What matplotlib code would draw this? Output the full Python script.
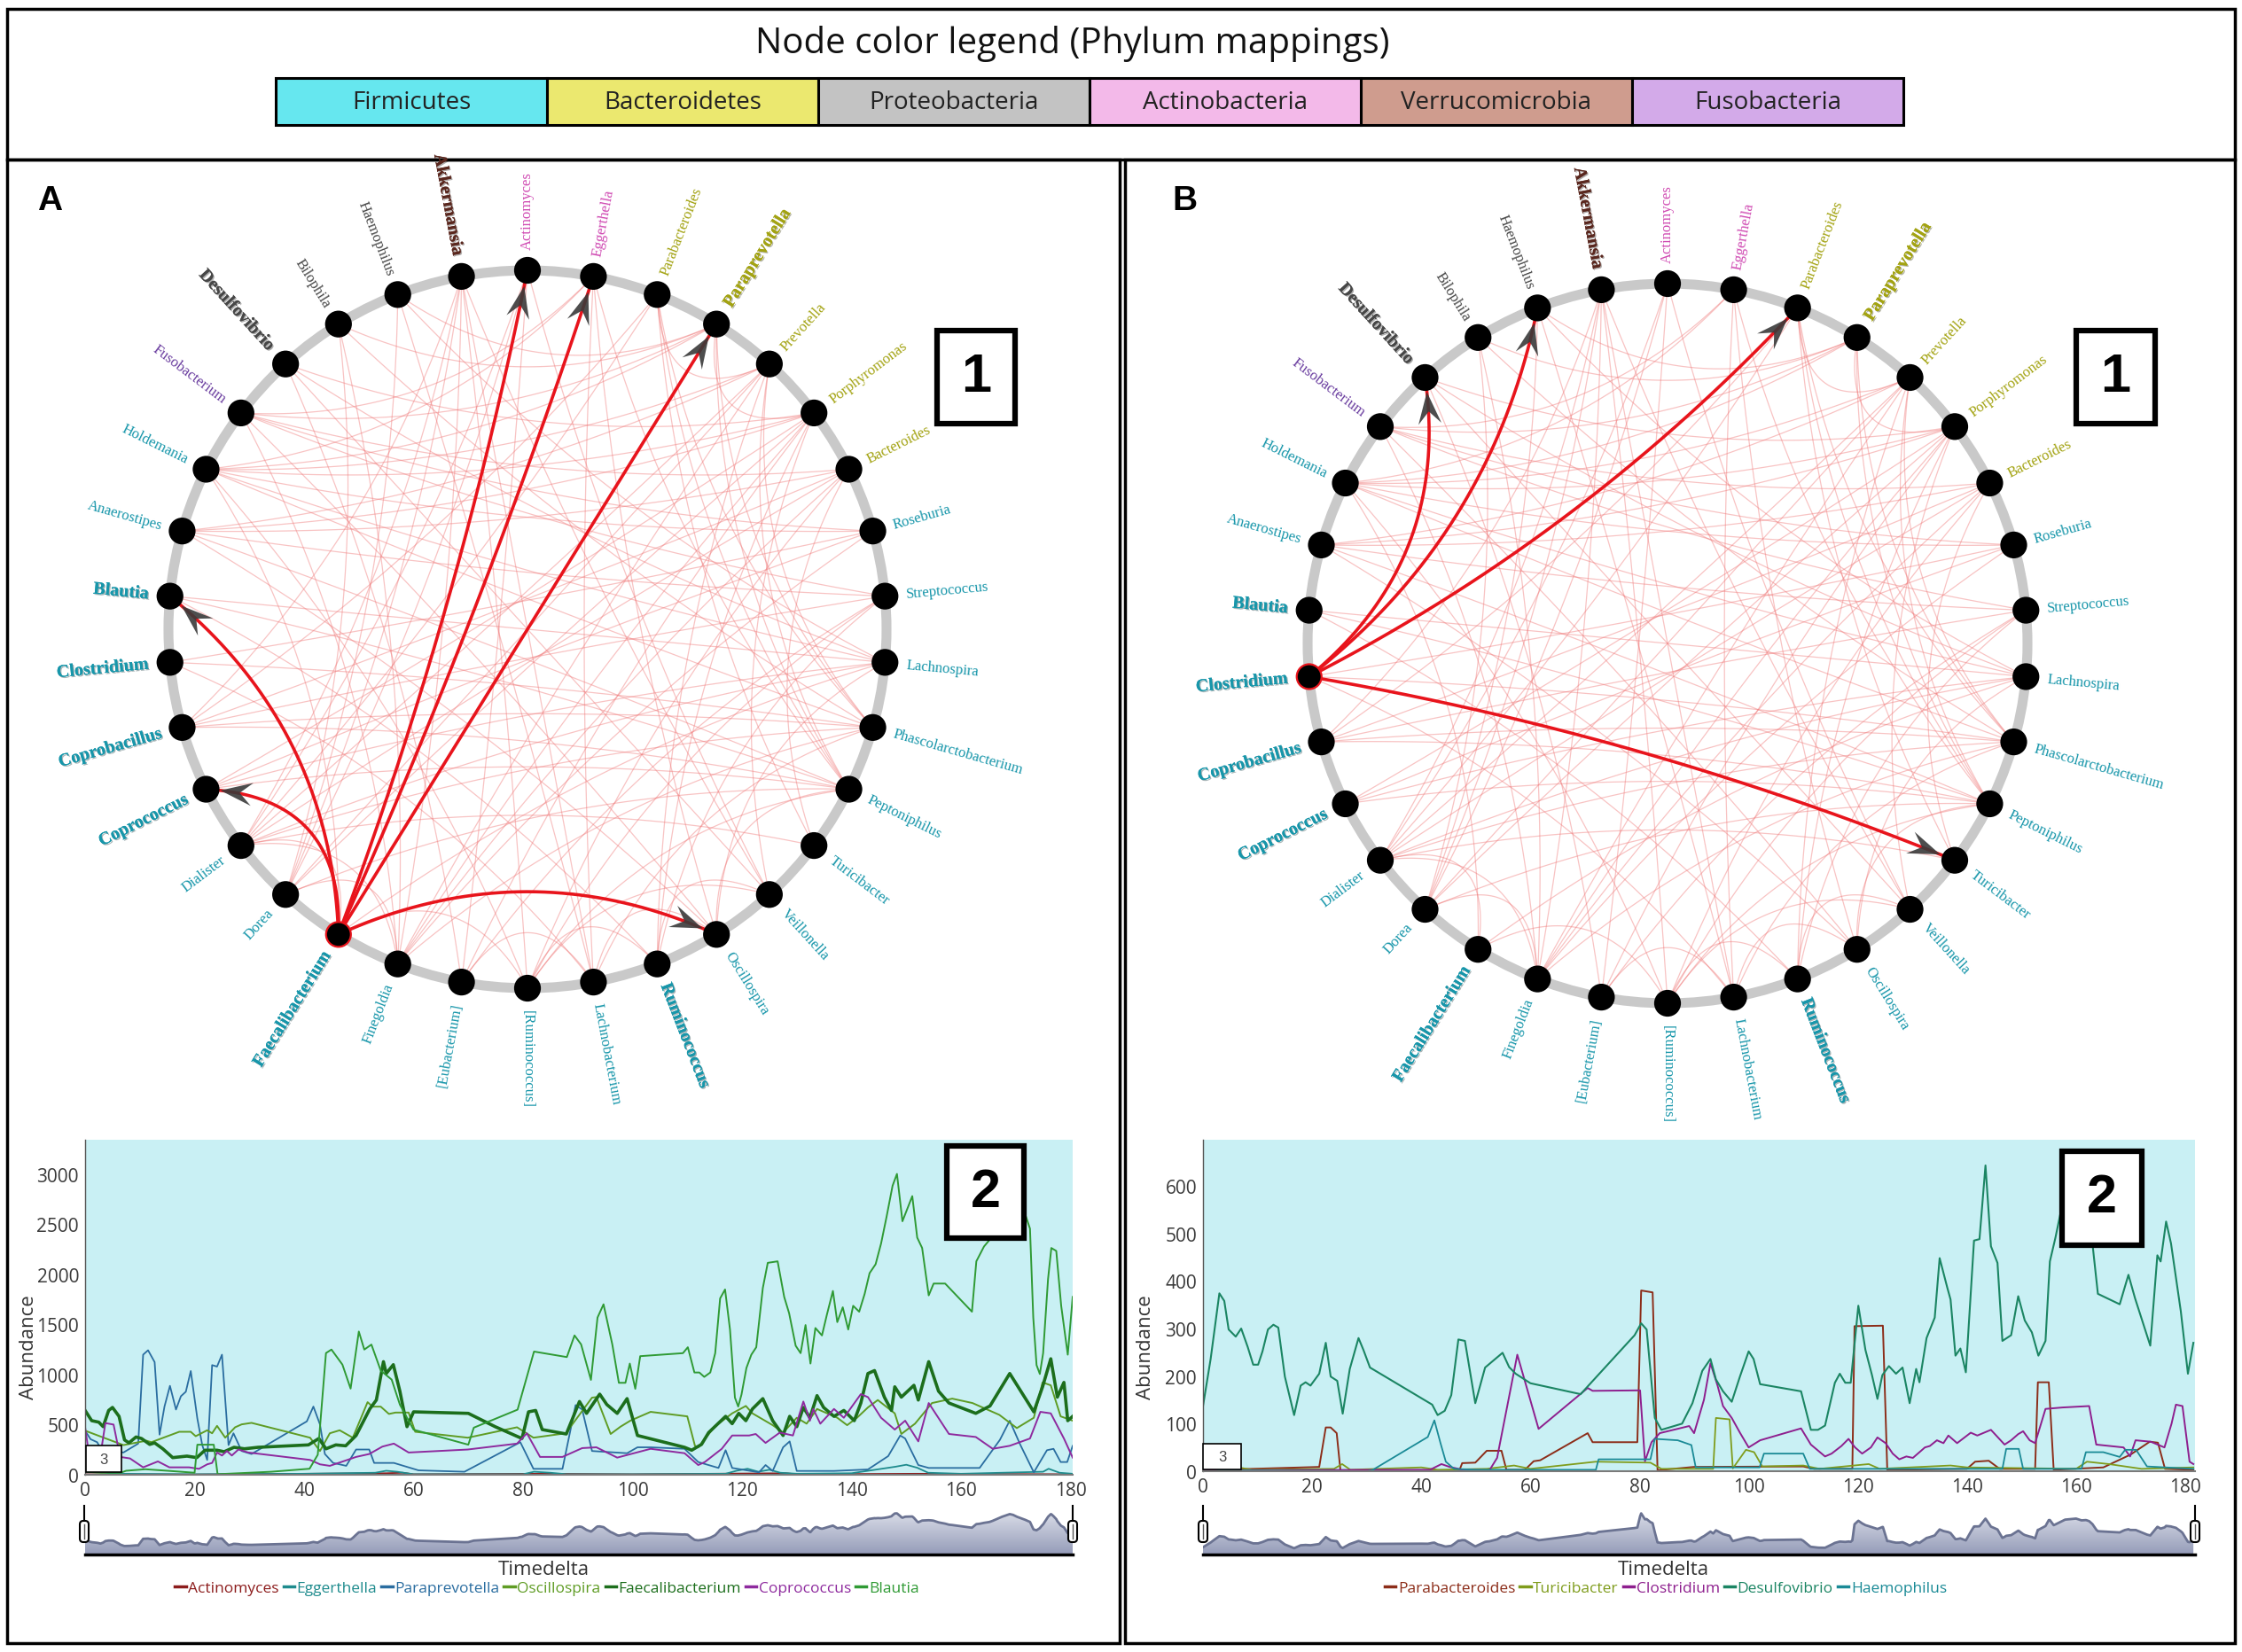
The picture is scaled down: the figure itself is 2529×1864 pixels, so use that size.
import numpy as np
import matplotlib.pyplot as plt
import matplotlib.patheffects as pe
from matplotlib.patches import Rectangle, Circle, Polygon, FancyBboxPatch
from matplotlib.lines import Line2D
from matplotlib.colors import LinearSegmentedColormap

plt.rcParams['font.family'] = ['Open Sans', 'DejaVu Sans']

W, H = 2529, 1865

# ---------------- data ----------------
phyla = ['Firmicutes', 'Bacteroidetes', 'Proteobacteria', 'Actinobacteria', 'Verrucomicrobia', 'Fusobacteria']
phylum_fill = ['#66e7ef', '#ebe86f', '#c3c3c3', '#f3b9e9', '#cf9c8e', '#d3aae9']
phylum_text = ['#1796aa', '#a3a312', '#474747', '#d04bb3', '#5a271e', '#6a3d9f']

genera = ['Actinomyces', 'Eggerthella', 'Parabacteroides', 'Paraprevotella', 'Prevotella',
          'Porphyromonas', 'Bacteroides', 'Roseburia', 'Streptococcus', 'Lachnospira',
          'Phascolarctobacterium', 'Peptoniphilus', 'Turicibacter', 'Veillonella', 'Oscillospira',
          'Ruminococcus', 'Lachnobacterium', '[Ruminococcus]', '[Eubacterium]', 'Finegoldia',
          'Faecalibacterium', 'Dorea', 'Dialister', 'Coprococcus', 'Coprobacillus', 'Clostridium',
          'Blautia', 'Anaerostipes', 'Holdemania', 'Fusobacterium', 'Desulfovibrio', 'Bilophila',
          'Haemophilus', 'Akkermansia']
genus_phylum = [3, 3] + [1] * 5 + [0] * 22 + [5] + [2] * 3 + [4]
bold_genera = ['Akkermansia', 'Paraprevotella', 'Desulfovibrio', 'Blautia', 'Clostridium',
               'Coprobacillus', 'Coprococcus', 'Faecalibacterium', 'Ruminococcus']

bg_edges = [(33, 19), (33, 17), (33, 21), (33, 22), (33, 16), (33, 13), (33, 24),
            (4, 28), (4, 27), (4, 22), (4, 21), (4, 19), (4, 11), (4, 10), (4, 15),
            (3, 29), (3, 28), (3, 31), (3, 32), (3, 11),
            (6, 27), (6, 24), (6, 22), (6, 17), (6, 19), (6, 12),
            (1, 14), (1, 16), (1, 11), (1, 28), (0, 18), (0, 13), (0, 22),
            (32, 16), (32, 21), (32, 9), (31, 21), (31, 19), (31, 10),
            (28, 10), (28, 9), (28, 17), (28, 7), (27, 8), (27, 11), (27, 14),
            (26, 9), (26, 15), (26, 11), (25, 7), (25, 10), (25, 16),
            (24, 8), (24, 10), (24, 11), (24, 2), (23, 7), (23, 9), (23, 11), (23, 5),
            (22, 2), (22, 9), (22, 10), (22, 12), (22, 19), (21, 0), (21, 5), (21, 11), (21, 19),
            (19, 5), (19, 7), (19, 10), (19, 29), (18, 5), (18, 8), (18, 30), (18, 16),
            (17, 8), (17, 11), (17, 13), (17, 15), (16, 10), (16, 14), (15, 5), (15, 8), (15, 13),
            (14, 9), (14, 11), (14, 29), (13, 5), (12, 2), (11, 2), (10, 3), (10, 2),
            (29, 6), (29, 1), (30, 13), (30, 5), (30, 9), (8, 29), (7, 29), (5, 27), (5, 28),
            (2, 4), (3, 5), (20, 22), (20, 17), (20, 28), (20, 9)]

src_A = 'Faecalibacterium'
targets_A = ['Blautia', 'Coprococcus', 'Actinomyces', 'Eggerthella', 'Paraprevotella', 'Oscillospira']
src_B = 'Clostridium'
targets_B = ['Desulfovibrio', 'Haemophilus', 'Parabacteroides', 'Turicibacter']

# panel A time series (Timedelta, abundance)
a_actinomyces = [(0, 5), (20, 3), (55, 15), (58, 20), (60, 5), (83, 10), (100, 5), (128, 15),
                 (130, 5), (152, 10), (180.4, 5)]
a_eggerthella = [(0, 60), (2, 40), (5, 10), (20, 5), (40, 10), (53, 20), (55, 40), (57, 30), (60, 5),
                 (80, 5), (82, 30), (85, 20), (88, 5), (100, 5), (117, 10), (119, 40), (121, 60),
                 (123, 30), (125, 50), (127, 20), (130, 10), (140, 15), (148, 80), (150, 100),
                 (152, 70), (154, 20), (160, 10), (175, 30), (176, 60), (178, 20), (180.4, 10)]
a_paraprevotella = [(0, 440), (1, 355), (2.2, 325), (2.8, 266), (7, 222), (9.7, 311), (10.6, 1199),
                    (11.5, 1243), (12.7, 1125), (13.6, 400), (14.5, 681), (15.5, 888), (16.6, 651),
                    (17.5, 784), (18.4, 829), (19.3, 1036), (20.5, 562), (21.4, 296), (22.3, 148),
                    (23.2, 1095), (24.1, 1080), (25, 1199), (26.2, 296), (27.1, 414), (28.6, 237),
                    (30.4, 207), (40.5, 533), (41.7, 681), (42.9, 503), (43.8, 207), (45.3, 118),
                    (47.7, 89), (49.5, 252), (51.9, 252), (52.8, 118), (56.4, 118), (60.9, 44),
                    (69.3, 30), (79.5, 325), (81.9, 59), (87.2, 59), (89.6, 696), (90.8, 651),
                    (92.6, 237), (99, 215), (100.9, 274), (103.3, 274), (109.5, 259), (112, 127),
                    (115.7, 68), (117, 245), (118.2, 68), (123.1, 24), (124.3, 97), (125.6, 38),
                    (127.5, 274), (128.7, 333), (130, 38), (136.8, 38), (143, 53), (146.7, 186),
                    (148.9, 392), (149.8, 362), (152.2, 97), (154.1, 68), (163.4, 68), (167.1, 348),
                    (168.9, 540), (170.8, 303), (173.3, 24), (175.7, 245), (176.9, 259), (178.2, 127),
                    (179.4, 127), (180.4, 289)]
a_oscillospira = [(0, 440), (7, 296), (11.2, 340), (12.1, 325), (17.2, 429), (19.3, 429), (20.2, 385),
                  (22.3, 444), (23.2, 414), (24.1, 488), (25.6, 370), (27.4, 474), (28.6, 503),
                  (30.4, 518), (41.1, 370), (42.9, 237), (44.7, 414), (46.5, 444), (48.9, 370),
                  (51.6, 725), (52.5, 680), (54, 680), (55.5, 607), (56.7, 621), (59.1, 621),
                  (60.3, 429), (69.9, 370), (78.9, 474), (81.9, 370), (87.8, 414), (92.6, 770),
                  (93.4, 775), (96, 407), (97.8, 480), (99.6, 540), (103.3, 628), (110, 583),
                  (111.4, 289), (112, 274), (115, 480), (118.2, 613), (120.7, 687), (121.9, 613),
                  (125.6, 495), (127.5, 421), (130, 569), (131.8, 510), (133.7, 657), (137.4, 569),
                  (139.2, 495), (141, 569), (143, 672), (144.8, 746), (147.9, 613), (149.1, 407),
                  (151.6, 510), (154.7, 716), (158.4, 760), (162.1, 716), (167, 598), (170.2, 466),
                  (173.3, 569), (174.9, 922), (176.4, 893), (178.2, 583), (180.4, 540)]
a_faecalibacterium = [(0, 642), (1.2, 540), (2.5, 525), (3.3, 480), (4.3, 642), (5, 672), (6.2, 583),
                      (7.2, 348), (8, 318), (9.3, 377), (10.3, 362), (11.8, 303), (12.7, 318),
                      (14.2, 259), (16, 171), (18.6, 186), (20.4, 171), (21.9, 245), (24.1, 245),
                      (25.4, 230), (27.2, 274), (29.1, 259), (31.6, 274), (40.8, 298), (42.7, 362),
                      (44, 259), (45.8, 298), (47.6, 289), (49.5, 392), (52, 657), (53.2, 746),
                      (54.5, 1129), (55, 1011), (56.3, 1099), (57.5, 834), (58.8, 480), (60, 628),
                      (70, 613), (74.9, 480), (79.8, 362), (81, 628), (82.3, 642), (83.5, 451),
                      (87.9, 407), (90.3, 731), (91.6, 613), (94, 805), (95.3, 701), (97.2, 613),
                      (99, 760), (100.9, 392), (109.5, 274), (110.8, 245), (112.6, 303), (113.9, 421),
                      (117, 583), (118.2, 510), (119.4, 613), (120.7, 540), (121.9, 657), (123.8, 760),
                      (125.6, 540), (127.5, 392), (128.7, 583), (130, 480), (131.2, 672), (132.4, 569),
                      (133.7, 790), (134.9, 672), (136.8, 583), (138.6, 642), (140.5, 540),
                      (141.7, 716), (143, 1011), (144.2, 1040), (146, 775), (147.3, 642), (147.9, 878),
                      (149.1, 775), (151.4, 893), (152.2, 746), (154.1, 1129), (155.9, 834),
                      (157.8, 716), (162.7, 613), (165.3, 687), (168.9, 1011), (173.3, 628),
                      (174.9, 878), (176.4, 1158), (177.6, 775), (178.8, 922), (179.5, 540), (180.4, 583)]
a_coprococcus = [(0, 474), (0.7, 207), (2.8, 192), (3.7, 516), (5.2, 501), (6.4, 178), (8.2, 163),
                 (10.6, 74), (13.3, 133), (15.4, 74), (19, 74), (20.8, 59), (22.3, 104), (23.2, 118),
                 (24.1, 222), (25, 192), (25.9, 237), (26.8, 192), (28, 252), (29.8, 222), (41.1, 148),
                 (42.9, 104), (44.7, 89), (47.1, 133), (49.5, 178), (51.9, 207), (54.3, 281),
                 (56.4, 311), (59.1, 222), (69.9, 252), (78.9, 311), (80.7, 414), (83.1, 178),
                 (87.2, 178), (90.8, 266), (93.4, 274), (97.2, 171), (103.3, 259), (109.5, 215),
                 (112, 97), (113.2, 127), (116.3, 259), (118.2, 392), (121.3, 392), (122.5, 407),
                 (124.3, 318), (126.9, 421), (129.3, 392), (131.2, 731), (132.4, 540), (133, 657),
                 (134.3, 510), (136.8, 657), (138.6, 569), (141.7, 805), (143, 775), (145.4, 569),
                 (147.9, 451), (149.8, 540), (152.2, 333), (154.1, 716), (157.8, 407), (162.7, 377),
                 (165.8, 259), (168.9, 289), (172.6, 362), (174.5, 628), (176.4, 613), (178.8, 362),
                 (180.4, 171)]
a_blautia = [(0, 30), (3, 20), (6.5, 20), (7.5, 40), (11, 55), (15, 40), (20, 20), (20.5, 300),
             (23.5, 300), (24.2, 5), (26, 10), (34, 30), (41, 60), (42.5, 200), (44, 1215), (45, 1250),
             (47, 1100), (48.5, 860), (50, 1430), (51, 1250), (52.3, 1300), (54, 1040), (56, 950),
             (57.5, 700), (60, 450), (70, 300), (71, 470), (79, 650), (82, 1230), (88, 1175),
             (89.4, 1391), (90.6, 1302), (92.4, 947), (93.6, 1569), (94.7, 1702), (96.3, 1302),
             (97.5, 918), (98.7, 918), (99.5, 1110), (100.5, 858), (101.4, 1184), (109.2, 1214),
             (110.1, 1273), (111.3, 1021), (112.2, 1021), (113.1, 977), (114.2, 1021), (115.1, 1214),
             (116, 1761), (116.9, 1850), (117.8, 1450), (118.7, 770), (119.3, 681), (119.9, 800),
             (120.8, 1066), (121.7, 1199), (122.6, 1273), (123.8, 1865), (124.7, 2116), (126.5, 2131),
             (127.7, 1776), (128.6, 1613), (129.8, 1288), (130.7, 1214), (131.6, 1495), (132.5, 1110),
             (133.4, 1465), (134.6, 1391), (135.5, 1598), (136.6, 1835), (137.4, 1524), (138.4, 1672),
             (139.4, 1450), (140.3, 1687), (141.4, 1628), (142.4, 1806), (143.3, 2013), (144.4, 2102),
             (145.4, 2309), (146.4, 2575), (147.5, 2886), (148.3, 3004), (149.3, 2531), (151.1, 2782),
             (152, 2368), (152.9, 2264), (154.1, 1791), (155, 1909), (157.1, 1909), (162, 1628),
             (162.8, 2131), (164.2, 2279), (165.1, 2338), (167.5, 2700), (169.5, 2850), (171.7, 2605),
             (172.6, 2457), (173.2, 1569), (173.8, 1095), (174.4, 1006), (175, 1214), (175.9, 1954),
             (176.5, 2264), (177.4, 2235), (178.3, 1687), (179.5, 1199), (180.4, 1776)]

# panel B time series
b_parabacteroides = [(0, 2), (21.3, 9), (22.5, 92), (23.4, 92), (24.5, 80), (25.2, 0), (47, 2), (47.5, 17),
                     (49.9, 18), (52, 43), (54.7, 43), (55.6, 3), (59, 3), (60.6, 21), (61.8, 23),
                     (70.5, 80), (71.4, 61), (79.6, 61), (80.3, 380), (82.4, 376), (83.3, 2), (90, 9),
                     (110, 10), (112, 5), (119, 5), (119.4, 305), (124.6, 306), (125.4, 3), (140, 5),
                     (141.5, 20), (144, 22), (146, 5), (152.5, 5), (153, 187), (155, 187), (155.9, 3),
                     (165, 8), (170, 35), (173.5, 62), (175, 60), (176.3, 5), (181.5, 3)]
b_turicibacter = [(0, 3), (3, 8), (5, 15), (6.5, 8), (9, 3), (24, 5), (25.5, 15), (27, 3), (40, 8), (43, 3),
                  (52, 5), (57, 12), (60, 5), (72, 20), (82, 18), (84, 5), (93.5, 5), (94, 112),
                  (96.5, 109), (97.1, 6), (99.5, 45), (101, 40), (102.5, 10), (110, 12), (113, 5),
                  (122, 15), (124, 5), (137, 12), (140, 8), (160, 5), (162, 20), (166, 15), (172, 5),
                  (181.5, 8)]
b_clostridium = [(0, 2), (41.6, 3), (43.7, 15), (45.2, 9), (47.6, 3), (52.5, 2), (53.9, 28), (57.6, 245),
                 (61.5, 89), (70.5, 175), (71.4, 169), (80.1, 170), (81, 21), (82.2, 61), (83.7, 80),
                 (89.1, 95), (90, 80), (91.8, 150), (93, 227), (94.3, 180), (95.3, 137), (96.9, 112),
                 (98.4, 81), (100, 50), (102.1, 65), (109.6, 90), (111.4, 56), (114, 31), (115.2, 37),
                 (117, 53), (118.3, 68), (119.5, 50), (120.8, 37), (122.4, 50), (123.6, 71), (125.1, 59),
                 (126.4, 37), (127.6, 25), (128.9, 31), (130.1, 28), (131.3, 40), (132.3, 50), (133.2, 53),
                 (134.5, 65), (135.7, 59), (136.6, 75), (138.2, 59), (140.7, 81), (141.9, 75), (144.4, 87),
                 (146.9, 56), (148.1, 65), (149.4, 78), (150.3, 84), (151.5, 65), (152.5, 59), (154.4, 131),
                 (157.5, 134), (162.4, 137), (163.7, 56), (168.7, 50), (169.9, 31), (170.9, 65),
                 (173.7, 62), (176.2, 50), (177.5, 100), (178.3, 140), (179.5, 137), (180.8, 20),
                 (181.5, 15)]
b_desulfovibrio = [(0, 137), (1.4, 236), (3, 374), (3.9, 358), (4.7, 298), (6, 283), (7, 300), (8.2, 261),
                   (9.2, 224), (10.1, 224), (10.9, 252), (11.9, 298), (12.9, 308), (13.8, 302), (15, 199),
                   (16.7, 118), (17.9, 180), (18.8, 187), (19.7, 180), (21.3, 205), (22.5, 270), (23.4, 199),
                   (24.6, 190), (25.6, 121), (26.9, 215), (28.5, 280), (29.4, 255), (30.6, 218), (42, 140),
                   (43, 118), (44.3, 127), (45.5, 160), (46.8, 277), (48, 274), (49.9, 143), (51.7, 218),
                   (54.9, 249), (56.1, 219), (57.3, 205), (60, 185), (69.2, 162), (79.1, 286), (80.3, 311),
                   (81.3, 298), (82.8, 112), (84, 87), (87.8, 100), (89.7, 143), (91.5, 211), (93, 236),
                   (94, 193), (95.3, 168), (96.9, 146), (98.4, 199), (100, 252), (100.9, 236), (102.1, 183),
                   (109.6, 168), (111.4, 87), (112.7, 87), (114, 96), (115.8, 186), (116.7, 205),
                   (117.7, 186), (118.7, 186), (120.1, 348), (121.4, 255), (122.6, 202), (123.6, 152),
                   (124.5, 202), (125.7, 221), (127, 205), (128.2, 218), (129.5, 143), (130.7, 215),
                   (131.3, 187), (132.6, 280), (134.1, 323), (135, 448), (136.4, 386), (137, 361),
                   (137.9, 243), (138.8, 258), (139.8, 208), (141.3, 485), (142.3, 488), (143.4, 643),
                   (144.4, 473), (145.6, 438), (146.5, 274), (148.1, 286), (149.4, 368), (150.6, 317),
                   (151.9, 292), (153.1, 243), (154.4, 274), (155.2, 441), (156.2, 490), (158, 590),
                   (160, 610), (161.5, 540), (163, 479), (164, 373), (168, 351), (169.6, 413),
                   (170.8, 364), (173.6, 264), (174.9, 454), (175.5, 441), (176.5, 525), (177.4, 479),
                   (179.2, 336), (180.5, 205), (181.5, 270)]
b_haemophilus = [(0, 10), (2, 8), (3, 2), (30, 0), (31, 2), (41.2, 72), (42.4, 107), (43.5, 60), (44.5, 20),
                 (46, 5), (50, 3), (72, 3), (72.5, 25), (82, 25), (82.8, 68), (87, 65), (89.5, 55),
                 (90.3, 8), (102, 8), (102.8, 37), (110, 37), (111.2, 5), (146.5, 5), (147.2, 47),
                 (149.5, 47), (150.3, 5), (161, 5), (161.8, 40), (165, 40), (168, 30), (169, 45),
                 (171, 45), (173, 10), (181.5, 5)]

names_A = ['Actinomyces', 'Eggerthella', 'Paraprevotella', 'Oscillospira', 'Faecalibacterium', 'Coprococcus', 'Blautia']
data_A = [a_actinomyces, a_eggerthella, a_paraprevotella, a_oscillospira, a_faecalibacterium, a_coprococcus, a_blautia]
colors_A = ['#8c1c1c', '#1e8b8d', '#2a6da0', '#5f9c24', '#1c6e1c', '#8e2a9e', '#2f9a34']
widths_A = [1.3, 1.3, 1.3, 1.4, 2.6, 1.4, 1.4]

names_B = ['Parabacteroides', 'Turicibacter', 'Clostridium', 'Desulfovibrio', 'Haemophilus']
data_B = [b_parabacteroides, b_turicibacter, b_clostridium, b_desulfovibrio, b_haemophilus]
colors_B = ['#8c2d19', '#7f9c1c', '#8e1f8e', '#1b8563', '#1a8a96']
widths_B = [1.4, 1.3, 1.4, 1.5, 1.3]

# ---------------- figure ----------------
fig = plt.figure(figsize=(W / 100, H / 100), dpi=100)


def px_axes(x0, y0, x1, y1):
    return fig.add_axes([x0 / W, 1 - y1 / H, (x1 - x0) / W, (y1 - y0) / H])


def draw_chart(box, data, colors, widths, xmax, ymax, yticks, slider_box):
    ax = px_axes(*box)
    ax.set_facecolor('#c9f0f4')
    for pts, c, lw in zip(data, colors, widths):
        t, v = np.array(pts).T
        ax.plot(t, v, color=c, lw=lw)
    ax.set_xlim(0, xmax)
    ax.set_ylim(0, ymax)
    ax.set_xticks(range(0, 181, 20))
    ax.set_yticks(yticks)
    ax.tick_params(length=0, labelsize=15, labelcolor='#3a3a3a', pad=5)
    for s in ['top', 'right']:
        ax.spines[s].set_visible(False)
    ax.spines['left'].set_color('#555555')
    ax.spines['left'].set_linewidth(1)
    ax.spines['bottom'].set_color('#7a7a7a')
    ax.spines['bottom'].set_linewidth(1.5)

    # range slider with an overview of the summed abundance
    sax = px_axes(*slider_box)
    tgrid = np.unique(np.concatenate([np.array(p)[:, 0] for p in data]))
    total = sum(np.interp(tgrid, *np.array(p).T) for p in data)
    top = total.max() * 1.12
    poly = sax.fill_between(tgrid, total, facecolor='none', edgecolor='none')
    cmap = LinearSegmentedColormap.from_list('sl', ['#959cb9', '#dfe2eb'])
    grad = sax.imshow(np.linspace(0, 1, 100)[:, None], extent=[0, xmax, 0, top],
                      aspect='auto', cmap=cmap, origin='lower')
    grad.set_clip_path(poly.get_paths()[0], transform=sax.transData)
    sax.plot(tgrid, total, color='#6b7392', lw=2)
    sax.set_xlim(0, xmax)
    sax.set_ylim(0, top)
    sax.set_xticks([])
    sax.set_yticks([])
    for s in ['top', 'right', 'left']:
        sax.spines[s].set_visible(False)
    sax.spines['bottom'].set_linewidth(2.5)
    return ax


ax_a = draw_chart((96, 1287, 1210, 1665), data_A, colors_A, widths_A, 180.4, 3345,
                  range(0, 3001, 500), (96, 1703, 1210, 1755))
ax_b = draw_chart((1357, 1287, 2476, 1661), data_B, colors_B, widths_B, 181.8, 697,
                  range(0, 601, 100), (1357, 1703, 2476, 1755))

for cx, lab_x in [(613, 32), (1876, 1292)]:
    fig.text(cx / W, 1 - 1772 / H, 'Timedelta', ha='center', va='center', fontsize=16, color='#333333')
    fig.text(lab_x / W, 1 - 1520 / H, 'Abundance', ha='center', va='center', rotation=90,
             fontsize=16, color='#333333')

for names, colors, cx in [(names_A, colors_A, 617), (names_B, colors_B, 1879)]:
    handles = [Line2D([], [], color=c, lw=2.5) for c in colors]
    fig.legend(handles, names, loc='center', bbox_to_anchor=(cx / W, 1 - 1793 / H), ncol=len(names),
               frameon=False, fontsize=12.5, handlelength=0.7, handletextpad=0.15, columnspacing=0.3,
               labelcolor='linecolor', borderpad=0)

# ---------------- overlay (frames, legend, networks) ----------------
ov = fig.add_axes([0, 0, 1, 1])
ov.set_xlim(0, W)
ov.set_ylim(H, 0)
ov.axis('off')
ov.patch.set_alpha(0)

for x0, y0, x1, y1 in [(8, 11, 2521, 181), (8, 181, 1263, 1855), (1269, 181, 2521, 1855)]:
    ov.add_patch(Rectangle((x0, y0), x1 - x0, y1 - y0, fill=False, ec='black', lw=2.5, zorder=1))

ov.text(1210, 50, 'Node color legend (Phylum mappings)', ha='center', va='center', fontsize=29, color='#111111')
bw = 306
for k, (name, fc) in enumerate(zip(phyla, phylum_fill)):
    x0 = 311 + k * bw
    ov.add_patch(Rectangle((x0, 89), bw, 53, fc=fc, ec='black', lw=2.2, zorder=2))
    ov.text(x0 + bw / 2, 116, name, ha='center', va='center', fontsize=20, color='#222222', zorder=3)

ov.text(56, 227, 'A', ha='center', va='center', fontsize=28, fontweight='bold',
        family=['Liberation Sans', 'DejaVu Sans'])
ov.text(1336, 227, 'B', ha='center', va='center', fontsize=28, fontweight='bold',
        family=['Liberation Sans', 'DejaVu Sans'])


def draw_network(cx, cy, R, src, targets):
    n = len(genera)
    ang = np.deg2rad(90 - np.arange(n) * 360 / n)
    pos = np.column_stack([cx + R * np.cos(ang), cy - R * np.sin(ang)])
    center = np.array([cx, cy])
    ov.add_patch(Circle((cx, cy), R, fill=False, ec='#c9c9c9', lw=8, zorder=2))

    def bez(p0, p2, s, m=80):
        c = center + s * ((p0 + p2) / 2 - center)
        tt = np.linspace(0, 1, m)[:, None]
        return (1 - tt) ** 2 * p0 + 2 * (1 - tt) * tt * c + tt ** 2 * p2

    si = genera.index(src)
    tis = [genera.index(t) for t in targets]
    for a, b in bg_edges:
        if (a == si and b in tis) or (b == si and a in tis):
            continue
        pts = bez(pos[a], pos[b], 0.72)
        ov.plot(pts[:, 0], pts[:, 1], color='#f07a7a', lw=0.9, alpha=0.45, zorder=3)
    for ti in tis:
        pts = bez(pos[si], pos[ti], 0.72, 300)
        ov.plot(pts[:, 0], pts[:, 1], color='#e8141c', lw=2.6, zorder=4, solid_capstyle='round')
        d = np.hypot(*(pts - pos[ti]).T)
        k = np.where(d > 16)[0][-1]
        tip = pts[k]
        dv = pts[k] - pts[max(k - 8, 0)]
        dv = dv / np.hypot(*dv)
        nv = np.array([-dv[1], dv[0]])
        back = tip - 36 * dv
        notch = tip - 22 * dv
        ov.add_patch(Polygon([tip, back + 13 * nv, notch, back - 13 * nv], closed=True,
                             fc='#3a3a3a', ec='none', alpha=0.9, zorder=6))
    for i, (x, y) in enumerate(pos):
        ov.add_patch(Circle((x, y), 14, fc='black', ec='#e8141c' if i == si else 'black',
                            lw=1.6, zorder=5))
        th = 90 - i * 360 / n
        lx = cx + (R + 24) * np.cos(np.deg2rad(th))
        ly = cy - (R + 24) * np.sin(np.deg2rad(th))
        if np.cos(np.deg2rad(th)) >= -1e-9:
            rot, ha = th, 'left'
        else:
            rot, ha = th + 180, 'right'
        bold = genera[i] in bold_genera
        txt = ov.text(lx, ly, genera[i], rotation=rot, rotation_mode='anchor', ha=ha, va='center',
                      fontsize=14.5 if bold else 12, fontweight='bold' if bold else 'normal',
                      family=['Liberation Serif', 'DejaVu Serif'],
                      color=phylum_text[genus_phylum[i]], zorder=7)
        if bold:
            txt.set_path_effects([pe.withSimplePatchShadow(offset=(1, -1), alpha=0.35), pe.Normal()])


draw_network(595, 711, 405, src_A, targets_A)
draw_network(1881, 727, 406, src_B, targets_B)


def num_box(x0, y0, x1, y1, s, fs, lw, color='black', weight='bold'):
    ov.add_patch(Rectangle((x0, y0), x1 - x0, y1 - y0, fc='white', ec='black', lw=lw, zorder=8))
    ov.text((x0 + x1) / 2, (y0 + y1) / 2, s, ha='center', va='center', fontsize=fs, fontweight=weight,
            color=color, family=['Liberation Sans', 'DejaVu Sans'], zorder=9)


num_box(1057, 374, 1145, 479, '1', 44, 4.5)
num_box(2342, 374, 2431, 479, '1', 44, 4.5)
num_box(1068, 1294, 1155, 1398, '2', 44, 4.5)
num_box(2326, 1300, 2416, 1406, '2', 44, 4.5)
num_box(97, 1632, 137, 1662, '3', 12, 1.2, '#444444', 'normal')
num_box(1357, 1630, 1400, 1659, '3', 12, 1.2, '#444444', 'normal')

# range slider handles
for x in [95, 1210, 1357, 2476]:
    ov.plot([x, x], [1700, 1718], color='black', lw=1.5, zorder=8)
    ov.add_patch(FancyBboxPatch((x - 5, 1717), 10, 24, boxstyle='round,pad=0,rounding_size=4',
                                fc='white', ec='black', lw=1.5, zorder=9))
    ov.plot([x, x], [1721, 1737], color='#555555', lw=1, zorder=10)

fig.savefig('out.png', dpi=100)
